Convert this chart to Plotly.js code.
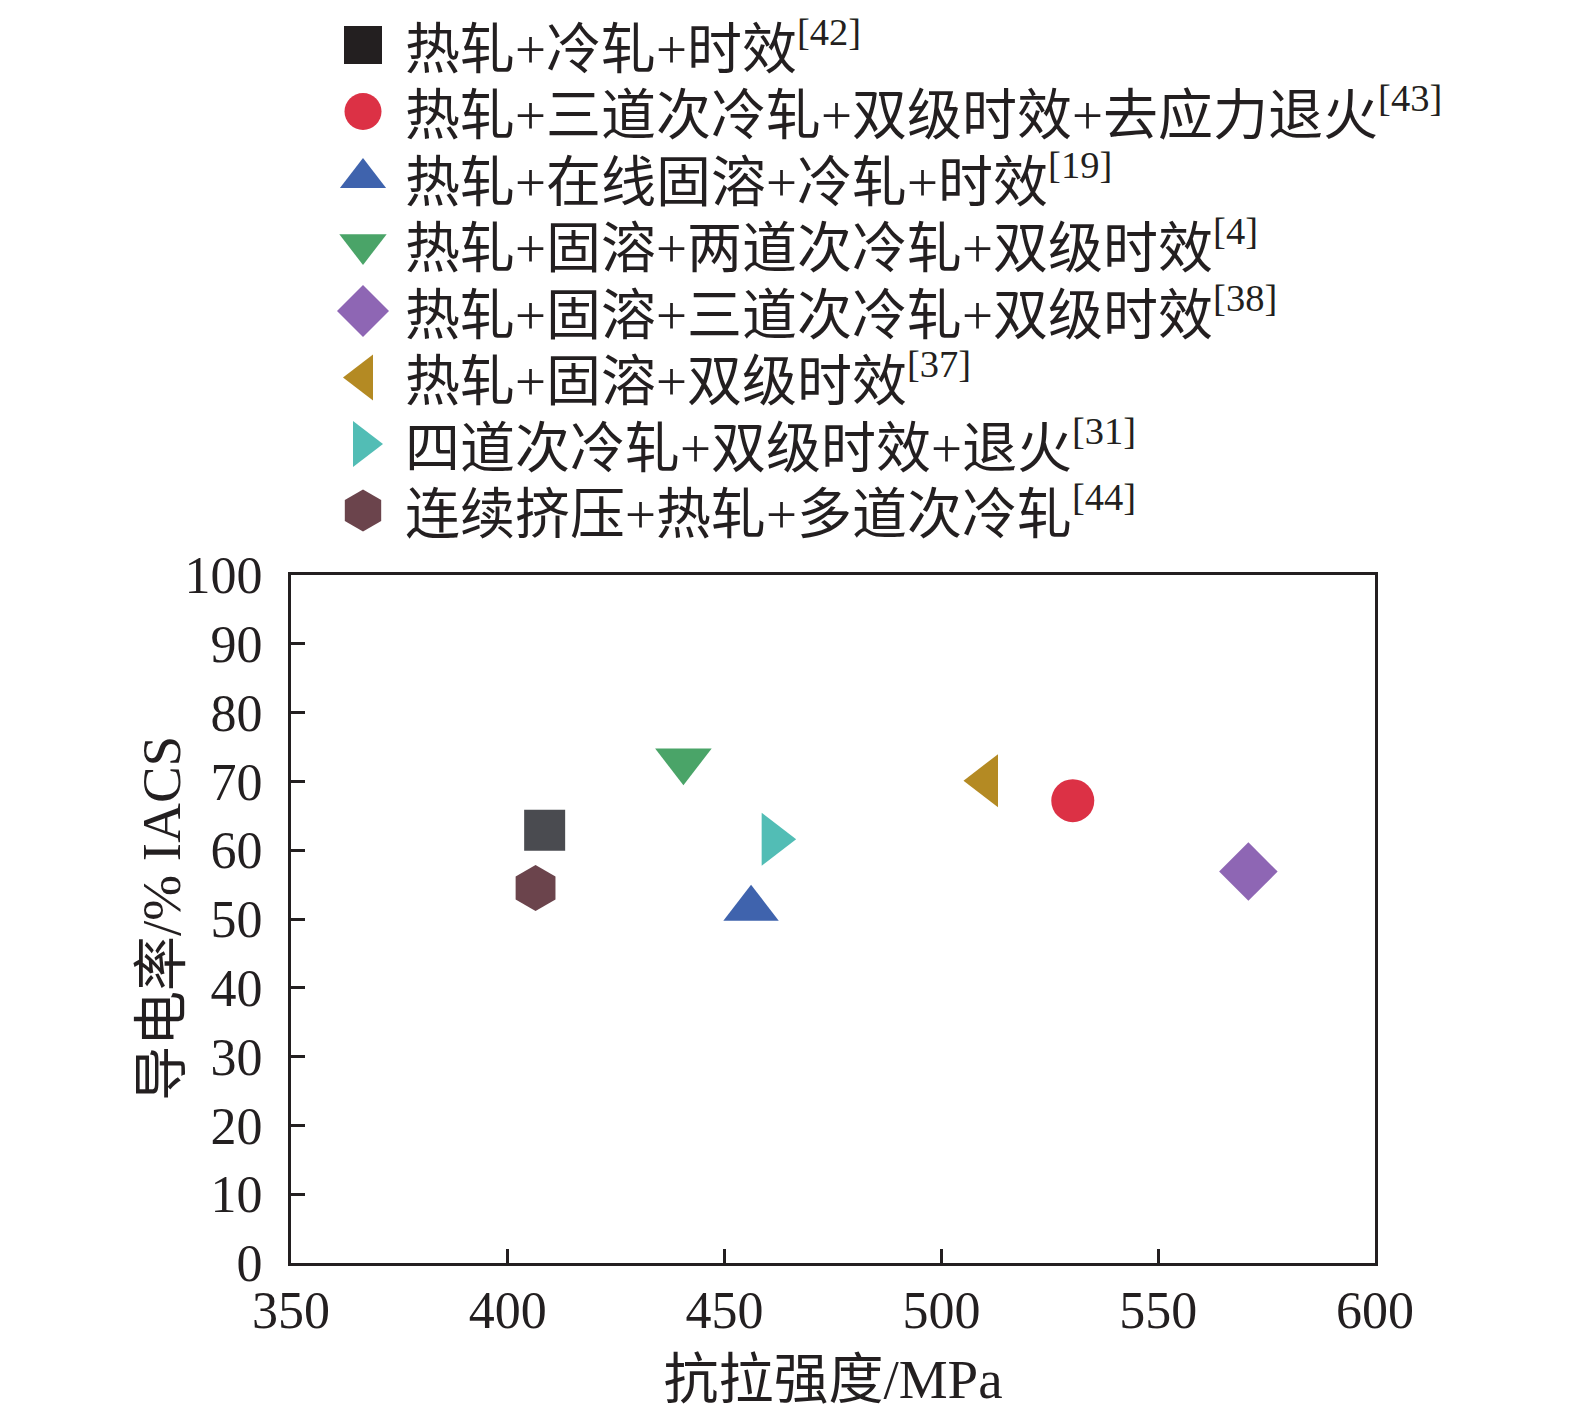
<!DOCTYPE html>
<html>
<head>
<meta charset="utf-8">
<script src="https://cdn.plot.ly/plotly-3.0.1.min.js"></script>
<style>
  html, body { margin: 0; padding: 0; background: #fff; }
  #chart { width: 1575px; height: 1413px; }
</style>
</head>
<body>
<div id="chart"></div>
<script>
// processes and their reference numbers
var processes = [
  '热轧+冷轧+时效',
  '热轧+三道次冷轧+双级时效+去应力退火',
  '热轧+在线固溶+冷轧+时效',
  '热轧+固溶+两道次冷轧+双级时效',
  '热轧+固溶+三道次冷轧+双级时效',
  '热轧+固溶+双级时效',
  '四道次冷轧+双级时效+退火',
  '连续挤压+热轧+多道次冷轧'
];
var refs = ['42', '43', '19', '4', '38', '37', '31', '44'];

// tensile strength (MPa) and conductivity (% IACS)
var strength = [408.5, 530.3, 456.1, 440.5, 570.8, 510.4, 461.2, 406.4];
var conductivity = [62.9, 67.2, 51.5, 73.0, 56.9, 70.1, 61.6, 54.5];

var symbols = ['square', 'circle', 'triangle-up', 'triangle-down', 'diamond', 'triangle-left', 'triangle-right', 'hexagon'];
var colors = ['#4a4b50', '#dc3145', '#3f63ad', '#4aa468', '#8e66b4', '#b48a23', '#52bdb5', '#6b444c'];
var sizes = [41, 43, 48, 49, 45, 46, 46, 46];
var legendSizes = [38, 37, 40, 41, 40, 40, 40, 42];
var legendColors = ['#231f20'].concat(colors.slice(1));

var serif = '"Liberation Serif", "Noto Sans CJK SC", serif';
var FIG_H = 1413, MB = 150, PLOT_H = 688;
var inner = FIG_H - MB;
var legendPx = 560;

var traces = [];
processes.forEach(function(p, i) {
  traces.push({
    name: p,
    x: [strength[i]],
    y: [conductivity[i]],
    mode: 'markers',
    type: 'scatter',
    showlegend: false,
    marker: { symbol: symbols[i], color: colors[i], size: sizes[i], line: { width: 0 } },
    hoverinfo: 'x+y+name'
  });
});

// legend drawn on its own hidden axes, one row per process
var annotations = [];
processes.forEach(function(p, i) {
  traces.push({
    x: [72],
    y: [i],
    xaxis: 'x2',
    yaxis: 'y2',
    mode: 'markers',
    type: 'scatter',
    showlegend: false,
    hoverinfo: 'skip',
    marker: { symbol: symbols[i], color: legendColors[i], size: legendSizes[i], line: { width: 0 } }
  });
  annotations.push({
    xref: 'x2', yref: 'y2',
    x: 112, y: i,
    xanchor: 'left', yanchor: 'middle',
    showarrow: false,
    text: p + '<sup>[' + refs[i] + ']</sup>',
    font: { family: serif, size: 55, color: '#231f20' }
  });
});

// y axis title placed beside the tick labels
annotations.push({
  xref: 'paper', yref: 'paper',
  x: 0, y: PLOT_H / inner / 2,
  xanchor: 'center', yanchor: 'middle',
  xshift: -130,
  textangle: -90,
  showarrow: false,
  text: '导电率/% IACS',
  font: { family: serif, size: 55, color: '#231f20' }
});

var layout = {
  width: 1575,
  height: FIG_H,
  margin: { l: 291, r: 200, t: 0, b: MB, pad: 0 },
  paper_bgcolor: '#ffffff',
  plot_bgcolor: 'rgba(0,0,0,0)',
  font: { family: serif, color: '#231f20' },
  showlegend: false,
  xaxis: {
    range: [350, 600],
    dtick: 50,
    tick0: 350,
    ticks: 'inside',
    ticklen: 14,
    tickwidth: 3,
    tickcolor: '#231f20',
    showline: true,
    linewidth: 3,
    linecolor: '#231f20',
    mirror: true,
    showgrid: false,
    zeroline: false,
    tickfont: { family: serif, size: 52, color: '#231f20' },
    ticklabelstandoff: 0,
    title: { text: '抗拉强度/MPa', font: { family: serif, size: 55, color: '#231f20' }, standoff: 22 },
    anchor: 'y'
  },
  yaxis: {
    domain: [0, PLOT_H / inner],
    range: [0, 100],
    dtick: 10,
    ticks: 'inside',
    ticklen: 14,
    tickwidth: 3,
    tickcolor: '#231f20',
    showline: true,
    linewidth: 3,
    linecolor: '#231f20',
    mirror: true,
    showgrid: false,
    zeroline: false,
    tickfont: { family: serif, size: 52, color: '#231f20' },
    ticklabelstandoff: 15,
    anchor: 'x'
  },
  xaxis2: {
    domain: [0, 1],
    range: [0, 1084],
    visible: false,
    fixedrange: true,
    anchor: 'y2'
  },
  yaxis2: {
    domain: [(inner - legendPx) / inner, 1],
    range: [(legendPx - 45) / 66.5, -45 / 66.5],
    visible: false,
    fixedrange: true,
    anchor: 'x2'
  },
  annotations: annotations
};

Plotly.newPlot('chart', traces, layout, { staticPlot: true });
</script>
</body>
</html>
